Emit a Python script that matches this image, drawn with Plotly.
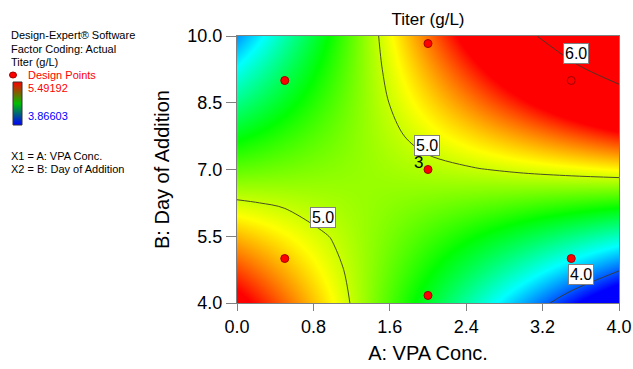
import plotly.graph_objects as go

# ---------------- data ----------------
A_vals = [0.0, 0.5, 1.0, 1.5, 2.0, 2.5, 3.0, 3.5, 4.0]          # A: VPA Conc.
B_vals = [4.0, 4.75, 5.5, 6.25, 7.0, 7.75, 8.5, 9.25, 10.0]     # B: Day of Addition
# predicted titer (g/L) on the grid, rows follow B_vals, columns follow A_vals
titer_B_4_00 = [5.564, 5.325, 5.087, 4.848, 4.610, 4.371, 4.133, 3.894, 3.656]
titer_B_4_75 = [5.382, 5.211, 5.040, 4.869, 4.698, 4.527, 4.356, 4.185, 4.014]
titer_B_5_50 = [5.199, 5.096, 4.992, 4.889, 4.785, 4.682, 4.578, 4.475, 4.371]
titer_B_6_25 = [5.017, 4.981, 4.945, 4.909, 4.873, 4.837, 4.801, 4.765, 4.729]
titer_B_7_00 = [4.835, 4.866, 4.898, 4.929, 4.961, 4.992, 5.024, 5.055, 5.087]
titer_B_7_75 = [4.653, 4.752, 4.851, 4.950, 5.049, 5.148, 5.247, 5.346, 5.445]
titer_B_8_50 = [4.470, 4.637, 4.803, 4.970, 5.136, 5.303, 5.469, 5.636, 5.802]
titer_B_9_25 = [4.288, 4.522, 4.756, 4.990, 5.224, 5.458, 5.692, 5.926, 6.160]
titer_B_10_0 = [4.106, 4.407, 4.709, 5.010, 5.312, 5.613, 5.915, 6.216, 6.518]
titer_grid = [titer_B_4_00, titer_B_4_75, titer_B_5_50, titer_B_6_25, titer_B_7_00,
              titer_B_7_75, titer_B_8_50, titer_B_9_25, titer_B_10_0]

design_A = [0.5, 0.5, 2.0, 2.0, 2.0, 3.5, 3.5]
design_B = [9.0, 5.0, 9.83, 7.0, 4.17, 9.0, 5.0]
replicate_label = "3"          # center point replicates

z_min, z_max = 3.86603, 5.49192
contour_levels = [4.0, 5.0, 6.0]
contour_label_text = ["5.0", "5.0", "6.0", "4.0"]
contour_label_A = [1.99, 0.90, 3.55, 3.60]
contour_label_B = [7.53, 5.93, 9.61, 4.63]

x_ticks = [0.0, 0.8, 1.6, 2.4, 3.2, 4.0]
y_ticks = [4.0, 5.5, 7.0, 8.5, 10.0]

# ---------------- layout geometry ----------------
W, H = 633, 369
L, R, T, B = 237, 14, 36, 66
PW, PH = W - L - R, H - T - B
FONT = "Liberation Sans, Arial, sans-serif"


def px_x(px):
    return (px - L) / PW


def px_y(py):
    return (H - B - py) / PH


rainbow = [[0.0, "rgb(0,0,255)"], [0.25, "rgb(0,255,255)"], [0.5, "rgb(0,255,0)"],
           [0.75, "rgb(255,255,0)"], [1.0, "rgb(255,0,0)"]]

fig = go.Figure()

fig.add_trace(go.Heatmap(x=A_vals, y=B_vals, z=titer_grid, zsmooth="best",
                         zmin=z_min, zmax=z_max, colorscale=rainbow,
                         showscale=False, hoverinfo="skip"))

fig.add_trace(go.Contour(x=A_vals, y=B_vals, z=titer_grid, autocontour=False,
                         contours=dict(start=contour_levels[0], end=contour_levels[-1],
                                       size=contour_levels[1] - contour_levels[0],
                                       coloring="none", showlabels=False),
                         line=dict(color="#3a3a2a", width=0.9, smoothing=0.9),
                         showscale=False, hoverinfo="skip"))

fig.add_trace(go.Scatter(x=design_A, y=design_B, mode="markers",
                         marker=dict(size=8, color="#ff0000",
                                     line=dict(color="#a00000", width=1)),
                         showlegend=False, hoverinfo="skip"))

annotations = []
for txt, a, b in zip(contour_label_text, contour_label_A, contour_label_B):
    annotations.append(dict(x=a, y=b, xref="x", yref="y", text=txt, showarrow=False,
                            font=dict(family=FONT, size=16, color="black"),
                            bgcolor="white", bordercolor="#808080", borderwidth=1,
                            borderpad=1))

annotations.append(dict(x=design_A[3], y=design_B[3], xref="x", yref="y",
                        text=replicate_label, showarrow=False, xshift=-10, yshift=7,
                        font=dict(family=FONT, size=17, color="black")))

left_text = [
    ("Design-Expert\u00ae Software", 35, "black"),
    ("Factor Coding: Actual", 49, "black"),
    ("Titer (g/L)", 62, "black"),
    ("X1 = A: VPA Conc.", 156, "black"),
    ("X2 = B: Day of Addition", 169, "black"),
]
for txt, py, col in left_text:
    annotations.append(dict(x=px_x(9), y=px_y(py), xref="paper", yref="paper",
                            xanchor="left", yanchor="middle", text=txt, showarrow=False,
                            font=dict(family=FONT, size=11, color=col)))
for txt, py, col in [("Design Points", 75, "#ff0000"), ("5.49192", 88, "#ff0000"),
                     ("3.86603", 116, "#0000ff")]:
    annotations.append(dict(x=px_x(26), y=px_y(py), xref="paper", yref="paper",
                            xanchor="left", yanchor="middle", text=txt, showarrow=False,
                            font=dict(family=FONT, size=11, color=col)))

shapes = [dict(type="circle", xref="paper", yref="paper", xsizemode="pixel",
               ysizemode="pixel", xanchor=px_x(13), yanchor=px_y(75),
               x0=-3.5, x1=3.5, y0=-3, y1=3, fillcolor="#ff0000",
               line=dict(color="#a00000", width=1))]

# small legend colour bar (red -> green -> blue), drawn as thin bands
bar_top, bar_bot, bar_l, bar_r = 82, 125, 13, 22
n_band = 43
stops = [(255, 0, 0), (0, 190, 0), (0, 0, 255)]
for i in range(n_band):
    f = (i + 0.5) / n_band
    seg = 0 if f < 0.5 else 1
    t = (f - 0.5 * seg) / 0.5
    c0, c1 = stops[seg], stops[seg + 1]
    col = "rgb(%d,%d,%d)" % tuple(round(c0[k] + (c1[k] - c0[k]) * t) for k in range(3))
    y0 = bar_top + (bar_bot - bar_top) * i / n_band
    y1 = bar_top + (bar_bot - bar_top) * (i + 1) / n_band
    shapes.append(dict(type="rect", xref="paper", yref="paper",
                       x0=px_x(bar_l), x1=px_x(bar_r), y0=px_y(y1), y1=px_y(y0),
                       fillcolor=col, line=dict(width=0), layer="above"))
shapes.append(dict(type="rect", xref="paper", yref="paper",
                   x0=px_x(bar_l), x1=px_x(bar_r), y0=px_y(bar_bot), y1=px_y(bar_top),
                   fillcolor="rgba(0,0,0,0)", line=dict(color="#333333", width=1)))

fig.update_layout(
    width=W, height=H, margin=dict(l=L, r=R, t=T, b=B, autoexpand=False),
    paper_bgcolor="white", plot_bgcolor="white",
    font=dict(family=FONT, color="black"),
    title=dict(text="Titer (g/L)", x=0.5, xref="paper", xanchor="center",
               y=1 - 19 / H, yanchor="middle", font=dict(family=FONT, size=17)),
    xaxis=dict(range=[0, 4], tickvals=x_ticks, ticktext=[f"{v:.1f}" for v in x_ticks],
               ticks="outside", ticklen=7, tickcolor="#808080", showgrid=False,
               zeroline=False, showline=True, mirror=True, linecolor="#808080",
               tickfont=dict(size=18), title=dict(text="A: VPA Conc.", standoff=10,
                                                  font=dict(size=20))),
    yaxis=dict(range=[4, 10], tickvals=y_ticks, ticktext=[f"{v:.1f}" for v in y_ticks],
               ticks="outside", ticklen=10, tickcolor="#808080", showgrid=False,
               zeroline=False, showline=True, mirror=True, linecolor="#808080",
               tickfont=dict(size=18), title=dict(text="B: Day of Addition", standoff=12,
                                                  font=dict(size=20))),
    annotations=annotations, shapes=shapes, showlegend=False,
)

fig.write_html("out.html", config={"displayModeBar": False},
               post_script="document.body.style.margin='0';")
